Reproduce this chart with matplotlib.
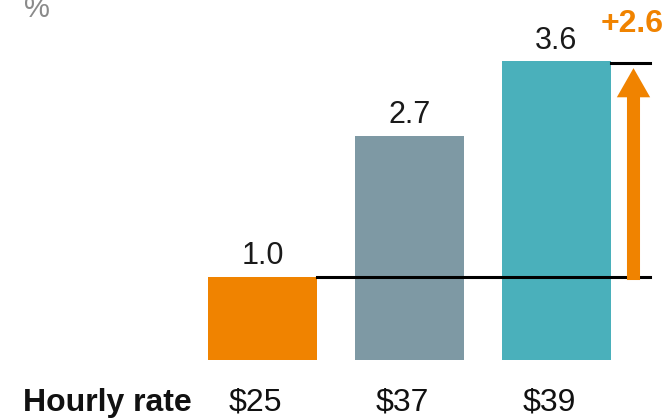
import matplotlib
matplotlib.use("Agg")
import matplotlib.pyplot as plt
from matplotlib.patches import FancyArrowPatch

plt.rcParams["font.family"] = ["Liberation Sans", "DejaVu Sans"]

# data
rates = ["$25", "$37", "$39"]
values = [1.0, 2.7, 3.6]
colors = ["#F08300", "#7E99A4", "#4AB0BB"]
diff_label = "+2.6"
row_label = "Hourly rate"
unit_label = "%"

fig = plt.figure(figsize=(6.67, 4.18), dpi=100)
ax = fig.add_axes([0, 0, 1, 1])

# pixel-ish layout: 147 px per bar slot, 83 px per unit
px_x, px_y = 147.0, 83.0
x0, y0 = 262.5, 360.0
ax.set_xlim(-x0 / px_x, (667 - x0) / px_x)
ax.set_ylim(-(418 - y0) / px_y, y0 / px_y)
ax.axis("off")

xs = list(range(len(values)))
width = 0.74
ax.bar(xs, values, width=width, color=colors, zorder=2)

for x, v in zip(xs, values):
    ax.annotate(f"{v:.1f}", (x, v), xytext=(0, 9), textcoords="offset points",
                ha="center", va="baseline", fontsize=22, color="#1a1a1a")

# reference lines at first and last bar heights
x_end = (650 - x0) / px_x
ax.plot([xs[0] + width / 2, x_end], [values[0], values[0]], color="black", lw=2.2, zorder=3)
ax.plot([xs[-1] + width / 2, x_end], [values[-1] - 0.02, values[-1] - 0.02],
        color="black", lw=2.2, zorder=3)

# difference arrow
x_arr = (633.5 - x0) / px_x
arrow = FancyArrowPatch((x_arr, 0.93), (x_arr, values[-1] - 0.05),
                        arrowstyle="simple,head_length=21,head_width=24,tail_width=9.4",
                        mutation_scale=1, color=colors[0], lw=0, zorder=4)
ax.add_patch(arrow)
ax.text((632 - x0) / px_x, values[-1] + 0.45, diff_label, ha="center", va="center",
        fontsize=23, fontweight="bold", color=colors[0])

# bottom labels
ax.text((23 - x0) / px_x, -0.61, row_label, ha="left", va="baseline",
        fontsize=23, fontweight="bold", color="#111111")
for x, r in zip(xs, rates):
    ax.text(x - 0.05, -0.61, r, ha="center", va="baseline", fontsize=23, color="#111111")

ax.text((24 - x0) / px_x, (y0 - 17) / px_y, unit_label, ha="left", va="baseline",
        fontsize=21, color="#8a8a8a")

fig.savefig("out.png", dpi=100)
